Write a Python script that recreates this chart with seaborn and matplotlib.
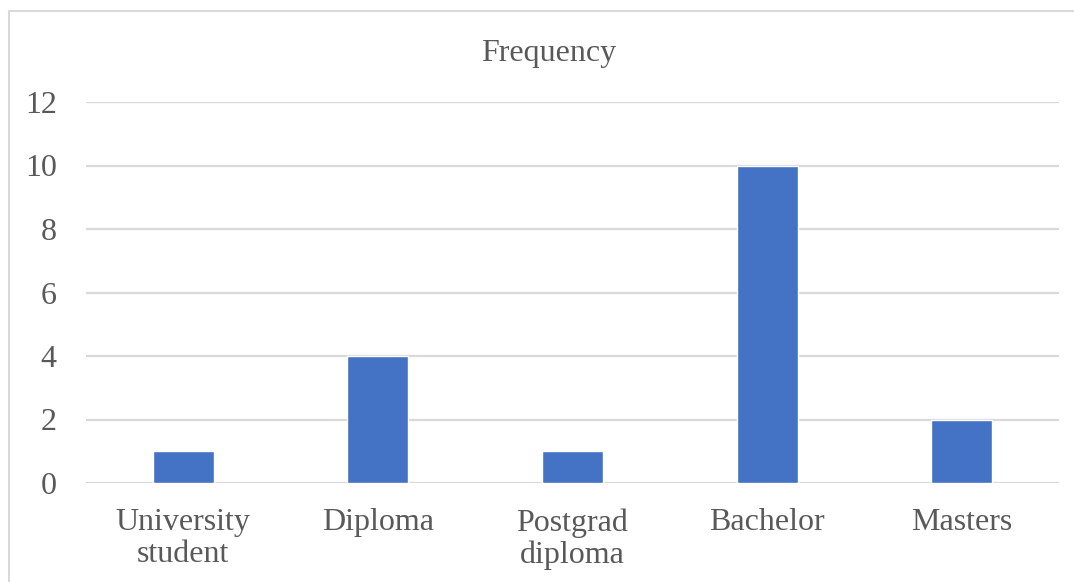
import matplotlib
matplotlib.use("Agg")
import matplotlib.pyplot as plt
import seaborn as sns
import pandas as pd
from matplotlib.patches import Rectangle

categories = ["University\nstudent", "Diploma", "Postgrad\ndiploma", "Bachelor", "Masters"]
frequency = [1, 4, 1, 10, 2]
yticks = [0, 2, 4, 6, 8, 10, 12]

sns.set_theme(style="white")
plt.rcParams['font.family'] = ['Liberation Serif', 'DejaVu Serif']

W, H = 1074, 582
fig = plt.figure(figsize=(W / 100, H / 100), dpi=100)
ax = fig.add_axes([86 / W, (H - 483) / H, (1059 - 86) / W, (483 - 102) / H])

df = pd.DataFrame({"cat": categories, "freq": frequency})
sns.barplot(data=df, x="cat", y="freq", color="#4472C4", saturation=1,
            width=0.313, ax=ax, zorder=3)

ax.set_ylim(0, 12)
ax.set_yticks(yticks)
ax.set_xlim(-0.5, len(categories) - 0.5)
ax.yaxis.grid(True, color="#d9d9d9", linewidth=1.6, zorder=0)
ax.set_axisbelow(True)
for s in ax.spines.values():
    s.set_visible(False)
ax.set_xlabel("")
ax.set_ylabel("")
ax.tick_params(axis="both", length=0, labelsize=23, colors="#595959")
ax.tick_params(axis="y", pad=21)
ax.tick_params(axis="x", pad=18)
for lbl in ax.get_xticklabels():
    lbl.set_linespacing(1.12)

fig.text(549 / W, 1 - 53 / H, "Frequency", ha="center", va="center",
         fontsize=23, color="#595959")

fig.patches.append(Rectangle((9 / W, -0.1), 1.2, 1 - 11 / H + 0.1,
                             transform=fig.transFigure, fill=False,
                             edgecolor="#d9d9d9", linewidth=1.5))

fig.savefig("out.png", dpi=100, facecolor="white")
